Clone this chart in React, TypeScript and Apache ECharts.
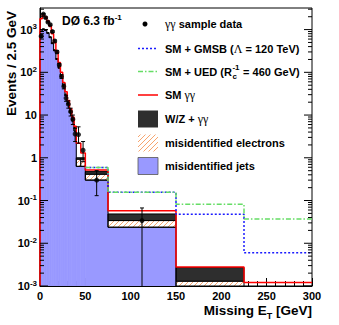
import { useEffect, useRef } from 'react';
import * as echarts from 'echarts';

// ---- data (events / 2.5 GeV) ----
const binEdges = [0, 2.5, 5, 7.5, 10, 12.5, 15, 17.5, 20, 22.5, 25, 27.5, 30, 32.5, 35, 37.5, 40, 45, 50, 75, 150, 225, 300];
const misidJets = [900, 1000, 950, 820, 650, 470, 320, 200, 125, 78, 47, 29, 18, 11.5, 7.2, 4.2, 0.63, 0.63, 0.3, 0.0237, 0, 0];
const misidElectrons = [15, 25, 25, 22, 18, 14, 10, 7, 4.5, 3, 2, 1.3, 0.9, 0.7, 0.6, 0.8, 0.3, 0.3, 0.113, 0.0103, 0.0013, 0];
const wzGammaGamma = [5, 8, 8, 7, 6, 5, 4, 3, 2, 1.4, 1, 0.7, 0.5, 0.4, 0.35, 0.3, 0.07, 0.07, 0.062, 0.0145, 0.0014, 0];
const smTotal = [1800, 2200, 2000, 1600, 1200, 800, 500, 300, 170, 100, 58, 35, 22, 14, 9, 5.5, 2.2, 1.3, 0.52, 0.058, 0.0028, 0.0012];

const signalEdges = [50, 75, 150, 225, 300];
const gmsbValues = [0.59, 0.156, 0.048, 0.006];
const uedValues = [0.59, 0.156, 0.082, 0.037];

const dataX = [1.25, 3.75, 6.25, 8.75, 11.25, 13.75, 16.25, 18.75, 21.25, 23.75, 26.25, 28.75, 31.25, 33.75, 36.25, 38.75, 42.5, 47.5, 62.5, 112.5];
const dataY = [700, 2300, 1900, 1500, 1300, 900, 540, 300, 150, 80, 47, 25, 18, 12, 8, 3.6, 3.5, 1.5, 0.3, 0.034];
const dataLow = [650, 2220, 1830, 1440, 1250, 860, 510, 280, 140, 72, 41, 21, 14.5, 9.5, 6, 2.4, 2.2, 0.81, 0.13, 0.0001];
const dataHigh = [750, 2380, 1970, 1560, 1350, 940, 570, 320, 160, 88, 53, 29, 21.5, 14.5, 10, 4.9, 5.3, 2.4, 0.5, 0.067];

const yDecades = [-3, -2, -1, 0, 1, 2, 3];
const yMinorMultipliers = [2, 3, 4, 5, 6, 7, 8, 9];
const xTickLabels = ['0', '50', '100', '150', '200', '250', '300'];

const legendLabels = ['γγ sample data', 'SM + GMSB (Λ = 120 TeV)', 'SM + UED (R_c^-1 = 460 GeV)', 'SM γγ', 'W/Z + γγ', 'misidentified electrons', 'misidentified jets'];

const YMIN = 0.001;
const YMAX = 3200;
const XMIN = 0;
const XMAX = 300;

const FONT = "'Liberation Sans', Arial, Helvetica, sans-serif";
const SERIF = "'Liberation Serif', 'Times New Roman', serif";
const BLUE_FILL = '#9999ff';
const DARK_FILL = '#2e2e2e';
const RED = '#ff0000';
const GMSB_COLOR = '#1a1aff';
const UED_COLOR = '#66dd66';
const HATCH_COLOR = '#f7a56e';
const HATCH_STEP = 5;

// diagonal "////" hatch lines clipped to a pixel rectangle
function hatchLines(x0: number, y0: number, x1: number, y1: number): any[] {
  const out: any[] = [];
  const kStart = Math.ceil((x0 + y0) / HATCH_STEP) * HATCH_STEP;
  for (let k = kStart; k <= x1 + y1; k += HATCH_STEP) {
    const xa = Math.max(x0, k - y1);
    const xb = Math.min(x1, k - y0);
    if (xb - xa <= 0.01) continue;
    out.push({
      type: 'line',
      shape: { x1: xa, y1: k - xa, x2: xb, y2: k - xb },
      style: { stroke: HATCH_COLOR, lineWidth: 1 },
    });
  }
  return out;
}

function textWidth(t: string, font: string): number {
  const c = document.createElement('canvas').getContext('2d')!;
  c.font = font;
  return c.measureText(t).width;
}

function stepPoints(edges: number[], values: number[], fromAxis: boolean, toAxis: boolean) {
  const pts: number[][] = [];
  if (fromAxis) pts.push([edges[0], YMIN]);
  values.forEach((v, i) => pts.push([edges[i], v]));
  pts.push([edges[values.length], values[values.length - 1]]);
  if (toAxis) pts.push([edges[values.length], YMIN]);
  return pts;
}

function rectRenderer(style: any, hatched: boolean) {
  return (_params: any, api: any) => {
    const x0 = api.value(0);
    const x1 = api.value(1);
    const lo = Math.max(api.value(2), YMIN);
    const hi = api.value(3);
    if (!(hi > lo)) return null;
    const a = api.coord([x0, hi]);
    const b = api.coord([x1, lo]);
    const rect = {
      type: 'rect',
      shape: { x: a[0], y: a[1], width: b[0] - a[0], height: b[1] - a[1] },
      style,
    };
    if (!hatched) return rect;
    const border = {
      type: 'rect',
      shape: { x: a[0], y: a[1], width: b[0] - a[0], height: b[1] - a[1] },
      style: { fill: 'none', stroke: '#000', lineWidth: 1 },
    };
    return { type: 'group', children: [rect, ...hatchLines(a[0], a[1], b[0], b[1]), border] };
  };
}

export default function App() {
  const ref = useRef<HTMLDivElement>(null);
  useEffect(() => {
    document.body.style.margin = '0';
    const chart = echarts.init(ref.current!, undefined, { renderer: 'svg', width: 339, height: 325 });

    const nBins = binEdges.length - 1;
    const jetsRects: number[][] = [];
    const eleRects: number[][] = [];
    const wzRects: number[][] = [];
    for (let i = 0; i < nBins; i++) {
      const j = misidJets[i];
      const e = j + misidElectrons[i];
      const w = e + wzGammaGamma[i];
      jetsRects.push([binEdges[i], binEdges[i + 1], 0, j]);
      eleRects.push([binEdges[i], binEdges[i + 1], j, e]);
      wzRects.push([binEdges[i], binEdges[i + 1], e, w]);
    }
    let nJets = 0;
    misidJets.forEach((v, i) => { if (v > 0) nJets = i + 1; });
    const jetsOutline = stepPoints(binEdges.slice(0, nJets + 1), misidJets.slice(0, nJets), true, true);
    const redLine = stepPoints(binEdges, smTotal, true, false);
    const gmsbLine = stepPoints(signalEdges, gmsbValues, false, false);
    const uedLine = stepPoints(signalEdges, uedValues, false, false);

    const tickData: number[][] = [];
    yDecades.forEach((d) => {
      const base = Math.pow(10, d);
      tickData.push([XMIN, base, 1]);
      yMinorMultipliers.forEach((m) => {
        const v = m * base;
        if (v < YMAX) tickData.push([XMIN, v, 0]);
      });
    });

    const boldFont = `bold 11px ${FONT}`;
    const lx = 138;
    const tx = 165;
    const ly = [24, 48.5, 71.5, 95, 119, 143, 166];
    const uedPart1 = 'SM + UED (R';
    const w1 = textWidth(uedPart1, boldFont);
    const wSup = textWidth('-1', `bold 8px ${FONT}`);

    const richLegend = {
      b: { fontSize: 11, fontWeight: 'bold', fontFamily: FONT, fill: '#000' },
      g: { fontSize: 12, fontFamily: SERIF, fill: '#000' },
    };

    const legendHatch = hatchLines(lx, ly[5] - 8.5, lx + 20, ly[5] + 8.5);

    const option: any = {
      animation: false,
      grid: { left: 40, right: 27, top: 8, bottom: 39, show: true, borderColor: '#000', borderWidth: 1, backgroundColor: 'transparent', outerBoundsMode: 'none' },
      xAxis: {
        type: 'value', min: XMIN, max: XMAX, interval: 50,
        axisLine: { show: true, lineStyle: { color: '#000', width: 1 } },
        axisTick: { show: true, inside: true, length: 8, lineStyle: { color: '#000' } },
        minorTick: { show: true, splitNumber: 5, length: 5, lineStyle: { color: '#000' } },
        splitLine: { show: false },
        axisLabel: {
          margin: 4, fontSize: 11, fontWeight: 'bold', fontFamily: FONT, color: '#000',
          formatter: (v: number) => { const i = Math.round(v / 50); return xTickLabels[i] ?? ''; },
        },
      },
      yAxis: {
        type: 'log', logBase: 10, min: YMIN, max: YMAX, splitNumber: 7,
        axisLine: { show: true, lineStyle: { color: '#000', width: 1 } },
        axisTick: { show: false },
        splitLine: { show: false },
        axisLabel: {
          margin: 3, color: '#000',
          formatter: (v: number) => {
            const l = Math.log10(v);
            const e = Math.round(l);
            if (Math.abs(l - e) > 1e-6) return '';
            if (e === 0) return '{b|1}';
            if (e === 1) return '{b|10}';
            return `{b|10}{s|${e}}`;
          },
          rich: {
            b: { fontSize: 11, fontWeight: 'bold', fontFamily: FONT, color: '#000', lineHeight: 14 },
            s: { fontSize: 8, fontWeight: 'bold', fontFamily: FONT, color: '#000', lineHeight: 6, verticalAlign: 'top' },
          },
        },
      },
      series: [
        { type: 'custom', name: 'misidentified jets', silent: true, clip: true, z: 1, data: jetsRects, encode: { x: [0, 1], y: [2, 3] }, renderItem: rectRenderer({ fill: BLUE_FILL, stroke: BLUE_FILL, lineWidth: 0.8 }, false) },
        { type: 'custom', name: 'misidentified electrons', silent: true, clip: true, z: 2, data: eleRects, encode: { x: [0, 1], y: [2, 3] }, renderItem: rectRenderer({ fill: '#ffffff' }, true) },
        { type: 'custom', name: 'W/Z + γγ', silent: true, clip: true, z: 3, data: wzRects, encode: { x: [0, 1], y: [2, 3] }, renderItem: rectRenderer({ fill: DARK_FILL, stroke: '#000', lineWidth: 1 }, false) },
        { type: 'line', name: 'jets outline', silent: true, z: 4, step: 'end', symbol: 'none', data: jetsOutline, lineStyle: { color: '#000', width: 1 } },
        { type: 'line', name: 'SM γγ', silent: true, z: 5, step: 'end', symbol: 'none', data: redLine, lineStyle: { color: RED, width: 1.5 } },
        { type: 'line', name: 'SM + GMSB', silent: true, z: 6, step: 'end', symbol: 'none', data: gmsbLine, lineStyle: { color: GMSB_COLOR, width: 1.5, type: [2, 2] } },
        { type: 'line', name: 'SM + UED', silent: true, z: 6, step: 'end', symbol: 'none', data: uedLine, lineStyle: { color: UED_COLOR, width: 1.5, type: [5, 2, 1.5, 2] } },
        {
          type: 'custom', name: 'errors', silent: true, clip: true, z: 7,
          data: dataX.map((x, i) => [x, dataLow[i], dataHigh[i]]),
          encode: { x: 0, y: [1, 2] },
          renderItem: (_p: any, api: any) => {
            const x = api.value(0);
            const top = api.coord([x, api.value(2)]);
            const bot = api.coord([x, Math.max(api.value(1), YMIN / 10)]);
            const st = { stroke: '#000', lineWidth: 1 };
            return {
              type: 'group',
              children: [
                { type: 'line', shape: { x1: top[0], y1: top[1], x2: bot[0], y2: bot[1] }, style: st },
                { type: 'line', shape: { x1: top[0] - 2, y1: top[1], x2: top[0] + 2, y2: top[1] }, style: st },
                { type: 'line', shape: { x1: bot[0] - 2, y1: bot[1], x2: bot[0] + 2, y2: bot[1] }, style: st },
              ],
            };
          },
        },
        {
          type: 'scatter', name: 'γγ sample data', silent: true, z: 8, symbol: 'circle', symbolSize: 5,
          itemStyle: { color: '#000' }, data: dataX.map((x, i) => [x, dataY[i]]),
        },
        {
          type: 'custom', name: 'yticks', silent: true, z: 9, data: tickData, encode: { x: 0, y: 1 },
          renderItem: (_p: any, api: any) => {
            const v = api.value(1);
            const len = api.value(2) === 1 ? 8 : 4;
            const l = api.coord([XMIN, v]);
            const r = api.coord([XMAX, v]);
            const st = { stroke: '#000', lineWidth: 1 };
            return {
              type: 'group',
              children: [
                { type: 'line', shape: { x1: l[0], y1: l[1], x2: l[0] + len, y2: l[1] }, style: st },
                { type: 'line', shape: { x1: r[0] - len, y1: r[1], x2: r[0], y2: r[1] }, style: st },
              ],
            };
          },
        },
      ],
      graphic: [
        {
          type: 'text', x: 62, y: 21,
          style: {
            text: '{t|DØ 6.3 fb}{s|-1}', verticalAlign: 'middle',
            rich: {
              t: { fontSize: 12, fontWeight: 'bold', fontFamily: FONT, fill: '#000', lineHeight: 16 },
              s: { fontSize: 8, fontWeight: 'bold', fontFamily: FONT, fill: '#000', lineHeight: 8, verticalAlign: 'top' },
            },
          },
        },
        {
          type: 'text', x: 11, y: 63.5, rotation: Math.PI / 2,
          style: { text: 'Events / 2.5 GeV', align: 'center', verticalAlign: 'middle', fontSize: 13.5, fontWeight: 'bold', fontFamily: FONT, fill: '#000' },
        },
        {
          type: 'text', x: 312, y: 310,
          style: {
            text: '{b|Missing E}{sub|T}{b| [GeV]}', align: 'right', verticalAlign: 'middle',
            rich: {
              b: { fontSize: 13.5, fontWeight: 'bold', fontFamily: FONT, fill: '#000', lineHeight: 20 },
              sub: { fontSize: 9, fontWeight: 'bold', fontFamily: FONT, fill: '#000', lineHeight: 8, verticalAlign: 'bottom' },
            },
          },
        },
        { type: 'circle', shape: { cx: 145, cy: ly[0], r: 2.5 }, style: { fill: '#000' } },
        { type: 'line', shape: { x1: lx, y1: ly[1], x2: lx + 20, y2: ly[1] }, style: { stroke: GMSB_COLOR, lineWidth: 1.5, lineDash: [2, 2] } },
        { type: 'line', shape: { x1: lx, y1: ly[2], x2: lx + 20, y2: ly[2] }, style: { stroke: UED_COLOR, lineWidth: 1.5, lineDash: [5, 2, 1.5, 2] } },
        { type: 'line', shape: { x1: lx, y1: ly[3], x2: lx + 20, y2: ly[3] }, style: { stroke: RED, lineWidth: 1.5 } },
        { type: 'rect', shape: { x: lx, y: ly[4] - 8.5, width: 20, height: 17 }, style: { fill: DARK_FILL } },
        { type: 'rect', shape: { x: lx, y: ly[5] - 8.5, width: 20, height: 17 }, style: { fill: '#ffffff' } },
        ...legendHatch,
        { type: 'rect', shape: { x: lx, y: ly[6] - 8.5, width: 20, height: 17 }, style: { fill: BLUE_FILL, stroke: '#555', lineWidth: 0.8 } },
        { type: 'text', x: tx, y: ly[0], style: { text: '{g|γγ}{b| sample data}', verticalAlign: 'middle', rich: richLegend } },
        { type: 'text', x: tx, y: ly[1], style: { text: '{b|SM + GMSB (}{g|Λ}{b| = 120 TeV)}', verticalAlign: 'middle', rich: richLegend } },
        { type: 'text', x: tx, y: ly[2], style: { text: uedPart1, verticalAlign: 'middle', font: boldFont, fill: '#000' } },
        { type: 'text', x: tx + w1 + 0.5, y: ly[2] - 4, style: { text: '-1', verticalAlign: 'middle', font: `bold 8px ${FONT}`, fill: '#000' } },
        { type: 'text', x: tx + w1 + 0.5, y: ly[2] + 4.5, style: { text: 'c', verticalAlign: 'middle', font: `bold 8px ${FONT}`, fill: '#000' } },
        { type: 'text', x: tx + w1 + wSup + 1, y: ly[2], style: { text: ' = 460 GeV)', verticalAlign: 'middle', font: boldFont, fill: '#000' } },
        { type: 'text', x: tx, y: ly[3], style: { text: '{b|SM }{g|γγ}', verticalAlign: 'middle', rich: richLegend } },
        { type: 'text', x: tx, y: ly[4], style: { text: '{b|W/Z + }{g|γγ}', verticalAlign: 'middle', rich: richLegend } },
        { type: 'text', x: tx, y: ly[5], style: { text: legendLabels[5], verticalAlign: 'middle', font: boldFont, fill: '#000' } },
        { type: 'text', x: tx, y: ly[6], style: { text: legendLabels[6], verticalAlign: 'middle', font: boldFont, fill: '#000' } },
      ],
    };
    chart.setOption(option);
    return () => chart.dispose();
  }, []);
  return <div ref={ref} style={{ width: 339, height: 325 }} />;
}
